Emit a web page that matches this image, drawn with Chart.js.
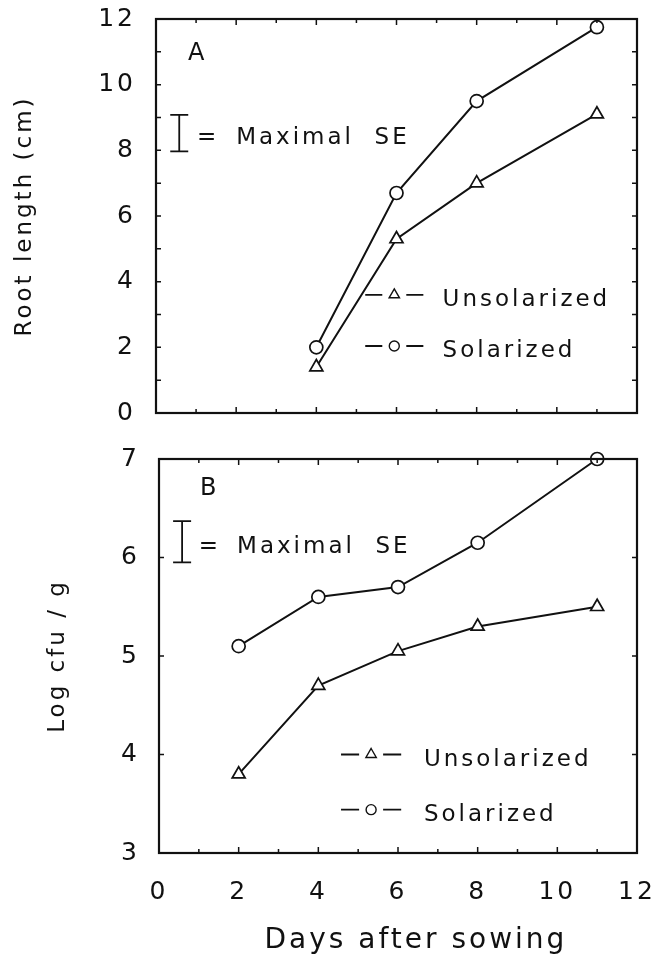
<!DOCTYPE html>
<html>
<head>
<meta charset="utf-8">
<script src="https://cdn.jsdelivr.net/npm/chart.js@4/dist/chart.umd.min.js"></script>
<style>
  body { margin: 0; background: #fff; }
  .panel { position: absolute; left: 0; width: 671px; }
</style>
</head>
<body>
<div class="panel" style="top:0;height:440px"><canvas id="chartA"></canvas></div>
<div class="panel" style="top:440px;height:517px"><canvas id="chartB"></canvas></div>
<script>
// panel A: root length (cm)
const daysA = [4, 6, 8, 11];
const unsolA = [1.4, 5.3, 7.0, 9.1];
const solA = [2.0, 6.7, 9.5, 11.75];

// panel B: log cfu / g
const daysB = [2, 4, 6, 8, 11];
const unsolB = [3.8, 4.7, 5.05, 5.3, 5.5];
const solB = [5.1, 5.6, 5.7, 6.15, 7.0];

const xTicks = [0, 2, 4, 6, 8, 10, 12];
const yTicksA = [0, 2, 4, 6, 8, 10, 12];
const yTicksB = [3, 4, 5, 6, 7];

// maximal SE bars
const seA = [7.97, 9.08];
const seB = [5.95, 6.37];

const FONT = '"DejaVu Sans", Verdana, sans-serif';
const INK = '#111';
Chart.defaults.font.family = FONT;
Chart.defaults.color = INK;

function points(xs, ys) {
    return xs.map((x, i) => ({x: x, y: ys[i]}));
}

function series(label, xs, ys, style) {
    return {
        label: label,
        data: points(xs, ys),
        borderColor: INK,
        borderWidth: 2,
        backgroundColor: '#fff',
        pointStyle: style,
        pointRadius: style === 'triangle' ? 7.5 : 6.5,
        pointBorderWidth: 1.7,
        pointBackgroundColor: '#fff',
        pointBorderColor: INK,
        tension: 0,
        fill: false,
        clip: false
    };
}

function setTicks(list) {
    return function (scale) {
        scale.ticks = list.map(v => ({value: v}));
    };
}

// invisible tick marks give the gap between labels and the frame
function gap(len) {
    return {display: true, drawOnChartArea: false, drawTicks: true, tickLength: len, color: 'rgba(0,0,0,0)'};
}

const panelPlugin = {
    id: 'panel',
    beforeLayout(chart) { chart.ctx.letterSpacing = '3px'; },
    beforeDraw(chart) { chart.ctx.letterSpacing = '3px'; },
    afterDatasetsDraw(chart) {
        const ctx = chart.ctx, a = chart.chartArea;
        const x = chart.scales.x, y = chart.scales.y;
        ctx.save();
        ctx.strokeStyle = INK;
        ctx.lineWidth = 2.2;
        ctx.strokeRect(a.left, a.top, a.right - a.left, a.bottom - a.top);
        // inward tick marks on all four sides
        ctx.lineWidth = 1.5;
        ctx.beginPath();
        for (let v = x.min + 1; v < x.max; v++) {
            const px = x.getPixelForValue(v);
            const len = v % 2 === 0 ? 6 : 4;
            ctx.moveTo(px, a.bottom); ctx.lineTo(px, a.bottom - len);
            ctx.moveTo(px, a.top); ctx.lineTo(px, a.top + len);
        }
        for (let v = y.min + 1; v < y.max; v++) {
            const py = y.getPixelForValue(v);
            ctx.moveTo(a.left, py); ctx.lineTo(a.left + 5, py);
            ctx.moveTo(a.right, py); ctx.lineTo(a.right - 5, py);
        }
        ctx.stroke();
        ctx.restore();
    },
    afterDraw(chart, args, o) {
        const ctx = chart.ctx;
        const x = chart.scales.x, y = chart.scales.y;
        ctx.save();
        ctx.letterSpacing = '3px';
        ctx.fillStyle = INK;
        ctx.strokeStyle = INK;
        ctx.textAlign = 'left';
        ctx.textBaseline = 'alphabetic';

        ctx.font = '24px ' + FONT;
        ctx.fillText(o.letter, x.getPixelForValue(o.letterAt[0]), y.getPixelForValue(o.letterAt[1]));

        // SE bar
        const sx = x.getPixelForValue(o.seX);
        const s1 = y.getPixelForValue(o.se[0]), s2 = y.getPixelForValue(o.se[1]);
        ctx.lineWidth = 1.8;
        ctx.beginPath();
        ctx.moveTo(sx, s1); ctx.lineTo(sx, s2);
        ctx.moveTo(sx - 9, s1); ctx.lineTo(sx + 9, s1);
        ctx.moveTo(sx - 9, s2); ctx.lineTo(sx + 9, s2);
        ctx.stroke();

        ctx.font = '23px ' + FONT;
        const tb = y.getPixelForValue(o.seTextY);
        ctx.fillText('=', x.getPixelForValue(o.eqX), tb);
        ctx.fillText('Maximal  SE', x.getPixelForValue(o.seTextX), tb);

        // legend inside the plot
        const x1 = x.getPixelForValue(o.legendX[0]);
        const x2 = x.getPixelForValue(o.legendX[1]);
        const tx = x.getPixelForValue(o.legendX[2]);
        const mid = (x1 + x2) / 2;
        chart.data.datasets.forEach((ds, i) => {
            const ly = y.getPixelForValue(o.legendY[i]);
            ctx.lineWidth = 1.8;
            ctx.beginPath();
            ctx.moveTo(x1, ly); ctx.lineTo(mid - 12, ly);
            ctx.moveTo(mid + 12, ly); ctx.lineTo(x2, ly);
            ctx.stroke();
            ctx.fillStyle = '#fff';
            ctx.lineWidth = 1.4;
            Chart.helpers.drawPoint(ctx, {
                pointStyle: ds.pointStyle,
                radius: ds.pointStyle === 'triangle' ? 6 : 5,
                borderWidth: 1.4,
                rotation: 0
            }, mid, ly);
            ctx.fillStyle = INK;
            ctx.fillText(ds.label, tx, ly + 11);
        });

        // x axis title (sits a little right of the plot centre in the original)
        if (o.xTitle) {
            ctx.font = '28px ' + FONT;
            ctx.textAlign = 'center';
            ctx.textBaseline = 'middle';
            ctx.fillText(o.xTitle, x.getPixelForValue(o.xTitleAt[0]), y.getPixelForValue(o.xTitleAt[1]));
        }
        ctx.restore();
    }
};

const chartA = new Chart(document.getElementById('chartA'), {
    type: 'line',
    data: {
        datasets: [
            series('Unsolarized', daysA, unsolA, 'triangle'),
            series('Solarized', daysA, solA, 'circle')
        ]
    },
    options: {
        responsive: true,
        maintainAspectRatio: false,
        animation: false,
        events: [],
        layout: {padding: {top: 19, right: 34, left: 0, bottom: 0}},
        plugins: {
            legend: {display: false},
            tooltip: {enabled: false},
            panel: {
                letter: 'A', letterAt: [0.8, 10.75],
                seX: 0.58, se: seA,
                eqX: 1.02, seTextX: 2.0, seTextY: 8.19,
                legendX: [5.22, 6.67, 7.15], legendY: [3.6, 2.04]
            }
        },
        scales: {
            x: {
                type: 'linear', min: 0, max: 12,
                afterBuildTicks: setTicks(xTicks),
                ticks: {display: false},
                grid: {display: false, drawTicks: false},
                border: {display: false},
                afterFit: s => { s.height = 27; }
            },
            y: {
                min: 0, max: 12,
                afterBuildTicks: setTicks(yTicksA),
                ticks: {padding: 0, font: {size: 25}},
                grid: gap(20),
                border: {display: false},
                title: {display: true, text: 'Root length (cm)', font: {size: 23}, padding: {top: 11, bottom: 0}},
                afterFit: s => { s.width = 156; }
            }
        }
    },
    plugins: [panelPlugin]
});

const chartB = new Chart(document.getElementById('chartB'), {
    type: 'line',
    data: {
        datasets: [
            series('Unsolarized', daysB, unsolB, 'triangle'),
            series('Solarized', daysB, solB, 'circle')
        ]
    },
    options: {
        responsive: true,
        maintainAspectRatio: false,
        animation: false,
        events: [],
        layout: {padding: {top: 19, right: 34, left: 0, bottom: 0}},
        plugins: {
            legend: {display: false},
            tooltip: {enabled: false},
            panel: {
                letter: 'B', letterAt: [1.03, 6.63],
                seX: 0.58, se: seB,
                eqX: 1.0, seTextX: 1.96, seTextY: 6.05,
                legendX: [4.57, 6.08, 6.65], legendY: [4.0, 3.44],
                xTitle: 'Days after sowing', xTitleAt: [6.45, 2.11]
            }
        },
        scales: {
            x: {
                type: 'linear', min: 0, max: 12,
                afterBuildTicks: setTicks(xTicks),
                ticks: {padding: 0, font: {size: 25}, maxRotation: 0},
                grid: gap(24),
                border: {display: false},
                afterFit: s => { s.height = 104; }
            },
            y: {
                min: 3, max: 7,
                afterBuildTicks: setTicks(yTicksB),
                ticks: {padding: 0, font: {size: 25}},
                grid: gap(19),
                border: {display: false},
                title: {display: true, text: 'Log cfu / g', font: {size: 23}, padding: {top: 44, bottom: 0}},
                afterFit: s => { s.width = 159; }
            }
        }
    },
    plugins: [panelPlugin]
});
</script>
</body>
</html>
